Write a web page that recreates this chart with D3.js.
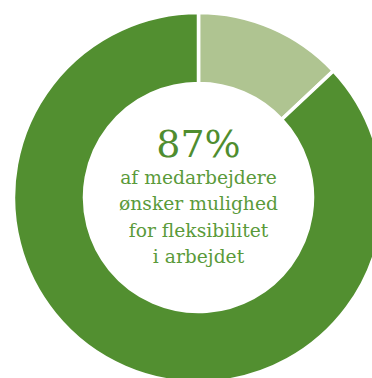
<!DOCTYPE html>
<html><head><meta charset="utf-8">
<script src="https://cdn.jsdelivr.net/npm/d3@7"></script>
<style>html,body{margin:0;padding:0;background:#fff;overflow:hidden}</style>
</head><body>
<svg id="c" width="372" height="378"></svg>
<script>
const categories = ["Ønsker ikke", "Ønsker mulighed for fleksibilitet"];
const values = [13, 87];
const colors = ["#afc491", "#528f30"];
const headline = "87%";
const captionLines = ["af medarbejdere", "ønsker mulighed", "for fleksibilitet", "i arbejdet"];

const svg = d3.select("#c");
const cx = 198.5, cy = 197.5, rOuter = 185, rInner = 114;
const g = svg.append("g").attr("transform", `translate(${cx},${cy})`);
const pie = d3.pie().sort(null).value(d => d)(values);
const arc = d3.arc().innerRadius(rInner).outerRadius(rOuter);
g.selectAll("path").data(pie).join("path")
  .attr("d", arc)
  .attr("fill", (d, i) => colors[i])
  .attr("stroke", "#fff").attr("stroke-width", 3.5);

g.append("text").text(headline)
  .attr("x", 0).attr("y", -40.5)
  .attr("text-anchor", "middle")
  .attr("font-family", "'DejaVu Serif', serif")
  .attr("font-size", 38)
  .attr("fill", "#4f8d2f");

const yScale = d3.scaleLinear().domain([0, captionLines.length - 1]).range([-13.5, 65.5]);
g.selectAll("text.cap").data(captionLines).join("text")
  .attr("class", "cap")
  .text(d => d)
  .attr("x", 0).attr("y", (d, i) => yScale(i))
  .attr("text-anchor", "middle")
  .attr("font-family", "'DejaVu Serif', serif")
  .attr("font-size", 18.7)
  .attr("fill", "#5a9a3a");
</script>
</body></html>
